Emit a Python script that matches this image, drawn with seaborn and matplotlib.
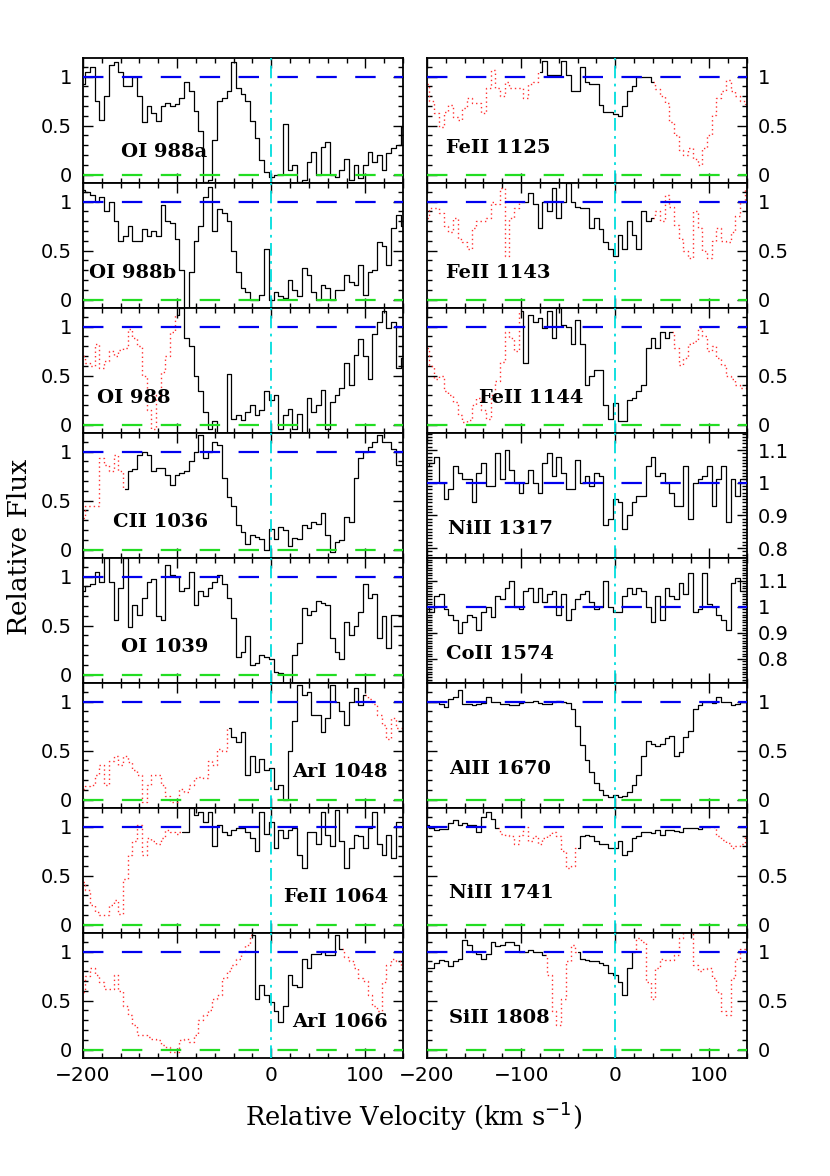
import numpy as np
import pandas as pd
import matplotlib
matplotlib.use("Agg")
import matplotlib.pyplot as plt
import seaborn as sns
from matplotlib.ticker import MultipleLocator, FormatStrFormatter

sns.set_theme(style="ticks")
plt.rcParams['font.family'] = ['DejaVu Sans']
plt.rcParams['text.color'] = 'black'
plt.rcParams['axes.labelcolor'] = 'black'
plt.rcParams['xtick.color'] = 'black'
plt.rcParams['ytick.color'] = 'black'

# Velocity grid (km/s), bin centres
velocity = np.arange(-200, 145, 5)

# ---- left column fluxes ----
oi_988a = [0.92, 1.05, 1.10, 0.75, 0.56, 0.80, 1.12, 1.15, 1.05, 0.90,
           0.90, 1.00, 0.80, 0.54, 0.70, 0.63, 0.55, 0.70, 0.73, 0.70,
           0.72, 0.78, 0.95, 0.85, 0.65, 0.45, -0.08, -0.05, 0.35, 0.75,
           0.78, 0.85, 1.15, 0.88, 0.82, 0.75, 0.55, 0.37, 0.15, 0.03,
           -0.02, 0.00, 0.00, 0.52, 0.05, 0.10, -0.08, -0.05, 0.13, 0.23,
           0.00, 0.28, 0.33, 0.00, -0.02, 0.05, 0.16, -0.05, 0.10, -0.03,
           0.10, 0.23, 0.13, 0.20, 0.05, 0.22, 0.27, 0.30, 0.49]
oi_988b = [1.12, 1.10, 1.07, 1.00, 1.05, 0.90, 1.00, 0.80, 0.60, 0.65,
           0.75, 0.60, 0.60, 0.72, 0.65, 0.70, 0.65, 0.97, 0.80, 0.78,
           0.62, 0.30, -0.08, 0.28, 0.60, 0.75, 1.05, 1.15, 0.70, 0.92,
           0.88, 0.80, 0.50, 0.28, 0.12, 0.08, 0.00, 0.00, 0.05, 0.52,
           0.00, 0.08, 0.04, 0.02, 0.20, 0.10, 0.04, 0.32, 0.25, 0.08,
           0.00, 0.15, 0.12, 0.00, 0.10, 0.10, 0.25, 0.18, 0.15, 0.35,
           0.05, 0.28, 0.30, 0.59, 0.55, 0.35, 0.73, 0.86, 0.75]
oi_988 = [0.70, 0.63, 0.60, 0.82, 0.58, 0.65, 0.75, 0.70, 0.76, 0.78,
          0.98, 0.88, 0.80, 0.50, 0.15, -0.04, 0.30, 0.54, 0.70, 0.95,
          1.12, 1.19, 0.88, 0.80, 0.50, 0.34, 0.13, -0.04, 0.04, -0.08,
          -0.08, 0.52, 0.06, 0.10, 0.05, 0.13, 0.20, 0.10, 0.15, 0.34,
          0.25, 0.30, -0.04, 0.10, 0.16, -0.04, 0.11, -0.08, 0.27, 0.13,
          0.20, 0.35, -0.04, 0.23, 0.30, 0.37, 0.63, 0.40, 0.71, 0.87,
          0.70, 0.47, 0.92, 1.05, 1.16, 0.99, 1.05, 0.58, 0.68]
cii_1036 = [0.32, 0.45, 0.45, 0.45, 0.93, 0.86, 0.80, 0.97, 0.80, 0.62,
            0.80, 0.82, 0.97, 1.00, 0.97, 0.80, 0.83, 0.83, 0.76, 0.66,
            0.76, 0.78, 0.80, 0.90, 1.00, 1.17, 0.93, 1.00, 1.10, 1.07,
            0.73, 0.54, 0.45, 0.25, 0.18, 0.06, 0.15, 0.13, 0.11, 0.00,
            0.21, 0.11, 0.23, 0.20, 0.04, 0.12, 0.11, 0.25, 0.22, 0.28,
            0.26, 0.37, 0.15, -0.02, 0.08, 0.10, 0.33, 0.28, 0.73, 0.93,
            1.00, 1.05, 1.10, 1.17, 1.10, 1.10, 1.03, 0.86, 0.86]
oi_1039 = [0.85, 0.90, 0.92, 1.05, 0.95, 1.19, 0.95, 0.56, 0.88, 1.19,
           0.49, 0.71, 0.61, 0.78, 0.95, 0.98, 0.60, 0.56, 1.12, 1.02,
           1.00, 0.85, 0.88, 1.05, 0.71, 0.85, 0.80, 0.88, 0.95, 1.02,
           0.92, 0.78, 0.58, 0.18, 0.23, 0.39, 0.10, 0.12, 0.20, 0.18,
           0.16, 0.03, 0.02, -0.08, -0.08, 0.20, 0.32, 0.68, 0.61, 0.65,
           0.75, 0.73, 0.71, 0.37, 0.23, 0.16, 0.54, 0.40, 0.50, 0.64,
           0.92, 0.78, 0.82, 0.37, 0.60, 0.27, 0.61, 0.61, 0.61]
ari_1048 = [0.11, 0.14, 0.15, 0.25, 0.35, 0.15, 0.39, 0.45, 0.35, 0.45,
            0.38, 0.30, 0.25, -0.02, 0.15, 0.25, 0.25, 0.15, 0.04, -0.02,
            -0.02, 0.11, 0.08, 0.15, 0.22, 0.23, 0.22, 0.39, 0.35, 0.52,
            0.50, 0.73, 0.64, 0.59, 0.69, 0.25, 0.45, 0.28, 0.42, 0.30,
            0.32, 0.11, 0.15, 0.00, 0.50, 0.80, 1.17, 1.07, 1.10, 0.86,
            0.86, 0.69, 0.83, 1.17, 1.00, 0.90, 0.76, 1.00, 1.14, 0.97,
            1.07, 1.03, 0.98, 0.86, 0.76, 0.62, 0.83, 0.73, 0.73]
feii_1064 = [0.44, 0.35, 0.20, 0.13, 0.10, 0.10, 0.20, 0.25, 0.11, 0.47,
             0.71, 0.85, 1.02, 0.71, 0.88, 0.85, 0.82, 0.88, 0.97, 0.95,
             0.93, 0.95, 0.95, 1.19, 1.12, 1.15, 1.05, 1.15, 0.80, 1.02,
             0.95, 0.92, 0.97, 0.99, 0.99, 0.95, 0.88, 0.75, 1.15, 0.93,
             1.05, 0.78, 0.97, 0.88, 0.97, 0.99, 0.71, 0.58, 0.95, 0.95,
             0.82, 1.15, 0.92, 0.80, 1.17, 0.85, 0.58, 0.78, 0.92, 0.90,
             0.78, 0.99, 1.15, 0.82, 0.71, 0.92, 0.68, 1.05, 1.05]
ari_1066 = [0.59, 0.75, 0.83, 0.76, 0.69, 0.62, 0.62, 0.76, 0.60, 0.45,
            0.35, 0.25, 0.15, 0.15, 0.13, 0.11, 0.10, 0.05, 0.03, -0.02,
            -0.02, 0.10, 0.11, 0.08, 0.15, 0.30, 0.35, 0.40, 0.52, 0.56,
            0.73, 0.80, 0.86, 0.93, 1.00, 1.07, 1.17, 0.52, 0.66, 0.56,
            0.49, 0.39, 0.28, 0.45, 0.76, 0.66, 0.64, 0.93, 0.83, 0.98,
            0.98, 1.00, 0.97, 0.97, 1.17, 1.03, 0.95, 0.90, 0.83, 0.73,
            0.70, 0.56, 0.45, 0.39, 0.69, 0.86, 0.93, 0.90, 0.83]

# ---- right column fluxes ----
feii_1125 = [0.92, 0.75, 0.63, 0.49, 0.64, 0.71, 0.59, 0.56, 0.68, 0.78,
             0.73, 0.73, 0.63, 0.88, 1.07, 0.88, 0.80, 0.95, 0.88, 0.88,
             0.88, 0.78, 0.92, 0.95, 1.05, 1.16, 1.02, 1.02, 1.02, 1.16,
             1.02, 0.85, 0.85, 1.10, 0.95, 0.92, 0.92, 0.71, 0.64, 0.64,
             0.62, 0.60, 0.70, 0.85, 0.90, 1.00, 1.00, 1.00, 0.95, 0.87,
             0.80, 0.73, 0.54, 0.40, 0.25, 0.20, 0.27, 0.16, 0.10, 0.27,
             0.40, 0.61, 0.78, 0.85, 0.97, 0.85, 0.80, 0.75, 0.72]
feii_1143 = [0.83, 0.93, 0.93, 0.88, 0.75, 0.69, 0.83, 0.62, 0.59, 0.52,
             0.73, 0.80, 0.80, 0.83, 1.00, 0.98, 1.14, 0.45, 0.83, 0.93,
             1.00, 1.00, 1.09, 0.98, 0.73, 1.00, 0.90, 1.14, 0.83, 1.00,
             1.19, 1.00, 0.95, 0.93, 0.93, 0.73, 0.83, 0.72, 0.59, 0.52,
             0.45, 0.66, 0.52, 0.80, 0.66, 0.52, 0.90, 0.80, 0.83, 0.90,
             0.80, 1.07, 0.95, 0.76, 0.62, 0.50, 0.42, 0.90, 0.73, 0.50,
             0.42, 0.60, 0.73, 0.60, 0.59, 0.69, 0.85, 1.00, 1.14]
feii_1144 = [0.78, 0.60, 0.47, 0.50, 0.34, 0.30, 0.23, 0.10, 0.03, 0.05,
             0.20, 0.27, 0.15, 0.06, 0.30, 0.45, 0.64, 0.95, 0.88, 0.75,
             1.16, 0.63, 1.12, 1.05, 1.09, 0.99, 1.16, 0.88, 1.19, 1.02,
             1.00, 0.82, 1.07, 0.82, 0.40, 0.50, 0.56, 0.56, 0.20, 0.06,
             0.22, 0.04, 0.04, 0.25, 0.27, 0.34, 0.40, 0.78, 0.88, 0.78,
             0.95, 0.88, 0.95, 0.78, 0.61, 0.68, 0.82, 0.85, 0.99, 0.90,
             0.75, 0.80, 0.68, 0.61, 0.50, 0.47, 0.40, 0.37, 0.37]
nii_1317 = [1.05, 1.06, 1.08, 1.00, 0.95, 0.98, 1.05, 1.03, 1.01, 1.01,
            0.94, 1.03, 1.06, 0.99, 0.99, 1.09, 1.01, 1.10, 1.04, 1.00,
            0.97, 1.00, 1.04, 1.00, 0.97, 1.06, 1.09, 1.02, 1.08, 1.03,
            0.98, 0.98, 1.07, 1.00, 1.02, 0.99, 1.03, 1.02, 0.87, 0.89,
            0.95, 0.94, 0.86, 0.90, 0.94, 0.96, 0.96, 1.05, 1.08, 1.02,
            1.03, 1.00, 0.97, 0.93, 0.93, 1.05, 0.89, 1.00, 1.01, 1.02,
            1.05, 0.93, 1.01, 1.05, 0.88, 1.01, 0.96, 1.01, 1.01]
coii_1574 = [1.00, 0.98, 1.04, 1.05, 0.99, 0.97, 0.95, 0.90, 0.94, 0.97,
             0.96, 0.91, 0.98, 1.00, 0.96, 1.04, 1.03, 1.07, 1.10, 1.00,
             0.99, 1.06, 1.07, 1.02, 1.07, 1.02, 1.05, 1.06, 0.97, 1.05,
             0.95, 0.99, 1.03, 1.05, 1.06, 1.02, 0.99, 1.00, 1.10, 1.00,
             0.98, 0.98, 1.04, 1.07, 1.05, 1.07, 1.06, 1.00, 0.94, 1.04,
             0.95, 1.07, 1.04, 1.03, 1.09, 1.05, 1.13, 0.98, 0.99, 1.13,
             1.01, 1.00, 0.97, 0.95, 0.91, 1.09, 1.11, 1.06, 1.06]
alii_1670 = [1.00, 1.00, 1.00, 0.98, 0.95, 1.03, 1.05, 1.12, 0.98, 0.98,
             0.97, 0.98, 0.99, 1.05, 1.00, 1.00, 0.98, 0.98, 0.97, 0.97,
             0.99, 1.00, 1.00, 1.01, 0.99, 0.98, 0.98, 1.00, 1.01, 1.00,
             0.99, 0.93, 0.75, 0.56, 0.40, 0.28, 0.17, 0.10, 0.05, 0.03,
             0.05, 0.03, 0.04, 0.08, 0.15, 0.25, 0.45, 0.60, 0.57, 0.55,
             0.57, 0.63, 0.65, 0.45, 0.49, 0.64, 0.70, 0.92, 0.97, 1.00,
             1.00, 0.99, 1.05, 1.00, 1.00, 0.97, 0.98, 1.00, 1.00]
nii_1741 = [1.02, 0.99, 0.97, 0.98, 0.98, 1.04, 1.07, 1.02, 1.04, 1.02,
            1.02, 0.95, 1.10, 1.15, 1.08, 0.99, 0.93, 0.92, 0.90, 0.82,
            0.92, 1.00, 0.85, 0.90, 0.82, 0.88, 0.92, 0.95, 0.90, 0.75,
            0.58, 0.60, 0.78, 0.90, 0.92, 0.90, 0.85, 0.82, 0.82, 0.78,
            0.78, 0.85, 0.71, 0.75, 0.88, 0.90, 0.95, 0.95, 0.94, 0.97,
            0.92, 0.97, 0.97, 0.96, 0.95, 0.99, 0.99, 0.99, 0.98, 1.00,
            1.00, 1.00, 0.90, 0.86, 0.83, 0.78, 0.80, 0.82, 0.90]
sii_1808 = [0.83, 0.83, 0.88, 0.91, 0.90, 0.85, 0.90, 0.93, 1.12, 1.07,
            1.00, 0.98, 0.93, 0.98, 1.10, 1.06, 1.07, 1.10, 1.10, 1.07,
            1.00, 1.00, 1.02, 1.00, 1.00, 0.97, 0.76, 0.39, 0.25, 0.52,
            0.90, 1.07, 1.00, 0.93, 0.92, 0.90, 0.90, 0.88, 0.86, 0.78,
            0.76, 0.69, 0.56, 0.83, 1.00, 1.14, 1.10, 0.69, 0.52, 0.83,
            0.93, 0.92, 0.92, 0.97, 1.14, 1.20, 1.20, 0.86, 0.80, 0.82,
            0.83, 0.73, 0.59, 0.39, 0.35, 0.73, 0.93, 1.03, 1.03]

# panel: (label, flux, unblended velocity ranges, column, row, label x, label y)
panels = [
    ("OI 988a", oi_988a, [(-200, 140)], 0, 0, 0.12, 0.25),
    ("OI 988b", oi_988b, [(-200, 140)], 0, 1, 0.02, 0.28),
    ("OI 988", oi_988, [(-100, 140)], 0, 2, 0.045, 0.28),
    ("CII 1036", cii_1036, [(-155, 140)], 0, 3, 0.095, 0.29),
    ("OI 1039", oi_1039, [(-200, 140)], 0, 4, 0.12, 0.29),
    ("ArI 1048", ari_1048, [(-45, 100)], 0, 5, 0.655, 0.29),
    ("FeII 1064", feii_1064, [(-95, 140)], 0, 6, 0.628, 0.29),
    ("ArI 1066", ari_1066, [(-20, 75)], 0, 7, 0.655, 0.29),
    ("FeII 1125", feii_1125, [(-80, 40)], 1, 0, 0.06, 0.28),
    ("FeII 1143", feii_1143, [(-100, 40)], 1, 1, 0.06, 0.28),
    ("FeII 1144", feii_1144, [(-100, 60)], 1, 2, 0.163, 0.28),
    ("NiII 1317", nii_1317, [(-200, 140)], 1, 3, 0.066, 0.23),
    ("CoII 1574", coii_1574, [(-200, 140)], 1, 4, 0.06, 0.23),
    ("AlII 1670", alii_1670, [(-200, 140)], 1, 5, 0.068, 0.31),
    ("NiII 1741", nii_1741, [(-200, -125), (-40, 100)], 1, 6, 0.068, 0.32),
    ("SiII 1808", sii_1808, [(-200, -75), (-40, 20)], 1, 7, 0.07, 0.32),
]

# zoomed flux scale for the two weak lines
zoom_ylim = {"NiII 1317": (0.77, 1.152), "CoII 1574": (0.707, 1.187)}


def draw_runs(ax, v, f, mask, **kw):
    idx = np.where(mask)[0]
    if len(idx) == 0:
        return
    for run in np.split(idx, np.where(np.diff(idx) > 1)[0] + 1):
        df = pd.DataFrame({"v": v[run], "f": f[run]})
        sns.lineplot(data=df, x="v", y="f", ax=ax, estimator=None, sort=False,
                     drawstyle="steps-mid", **kw)


fig = plt.figure(figsize=(8.3, 11.76), dpi=100)
col_left = [0.1, 0.5145]
width = 0.3855
top = 0.9507
height = (0.9507 - 0.1003) / 8

for label, flux, ranges, col, row, lx, ly in panels:
    ax = fig.add_axes([col_left[col], top - (row + 1) * height, width, height])
    f = np.array(flux)
    black = np.zeros(len(velocity), dtype=bool)
    for lo, hi in ranges:
        black |= (velocity >= lo) & (velocity <= hi)
    # blended parts, extended by one bin so the curves join
    red = ~black
    red_ext = red.copy()
    red_ext[1:] |= red[:-1]
    red_ext[:-1] |= red[1:]

    draw_runs(ax, velocity, f, red_ext, color="#ff3030", linestyle=(0, (1, 2.2)), linewidth=1.0)
    draw_runs(ax, velocity, f, black, color="black", linewidth=0.9)

    ax.axhline(1, color="#0000ee", linewidth=1.6, dashes=(9.2, 8.3), zorder=3)
    ax.axhline(0, color="#22dd22", linewidth=1.6, dashes=(9.2, 8.3), zorder=3)
    ax.axvline(0, color="#00dddd", linewidth=1.3, dashes=(7, 3, 1.5, 3), zorder=3)

    ax.set_xlim(-200, 140)
    if label in zoom_ylim:
        ax.set_ylim(*zoom_ylim[label])
        ax.yaxis.set_major_locator(MultipleLocator(0.1))
        ax.yaxis.set_minor_locator(MultipleLocator(0.01))
    else:
        ax.set_ylim(-0.085, 1.19)
        ax.yaxis.set_major_locator(MultipleLocator(0.5))
        ax.yaxis.set_minor_locator(MultipleLocator(0.1))
    ax.yaxis.set_major_formatter(FormatStrFormatter("%g"))
    ax.xaxis.set_major_locator(MultipleLocator(100))
    ax.xaxis.set_minor_locator(MultipleLocator(20))

    ax.tick_params(which="both", direction="in", top=True, bottom=True,
                   left=True, right=True, width=1.0, colors="black")
    ax.tick_params(which="major", length=7)
    ax.tick_params(which="minor", length=3.5)
    ax.tick_params(axis="y", labelsize=14, pad=8,
                   labelleft=(col == 0), labelright=(col == 1))
    ax.tick_params(axis="x", labelsize=14.5, pad=6, labelbottom=(row == 7))
    for sp in ax.spines.values():
        sp.set_linewidth(1.3)
        sp.set_color("black")
    ax.set_xlabel("")
    ax.set_ylabel("")

    ax.text(lx, ly, label, transform=ax.transAxes, ha="left", va="center",
            fontsize=14, family="DejaVu Serif", fontweight="bold", color="black", zorder=5)

fig.text(0.498, 0.051, "Relative Velocity (km s$^{-1}$)", ha="center", va="center",
         fontsize=18.5, family="DejaVu Serif", color="black")
fig.text(0.024, 0.535, "Relative Flux", ha="center", va="center", rotation=90,
         fontsize=19, family="DejaVu Serif", color="black")

fig.savefig("out.png", dpi=100)
